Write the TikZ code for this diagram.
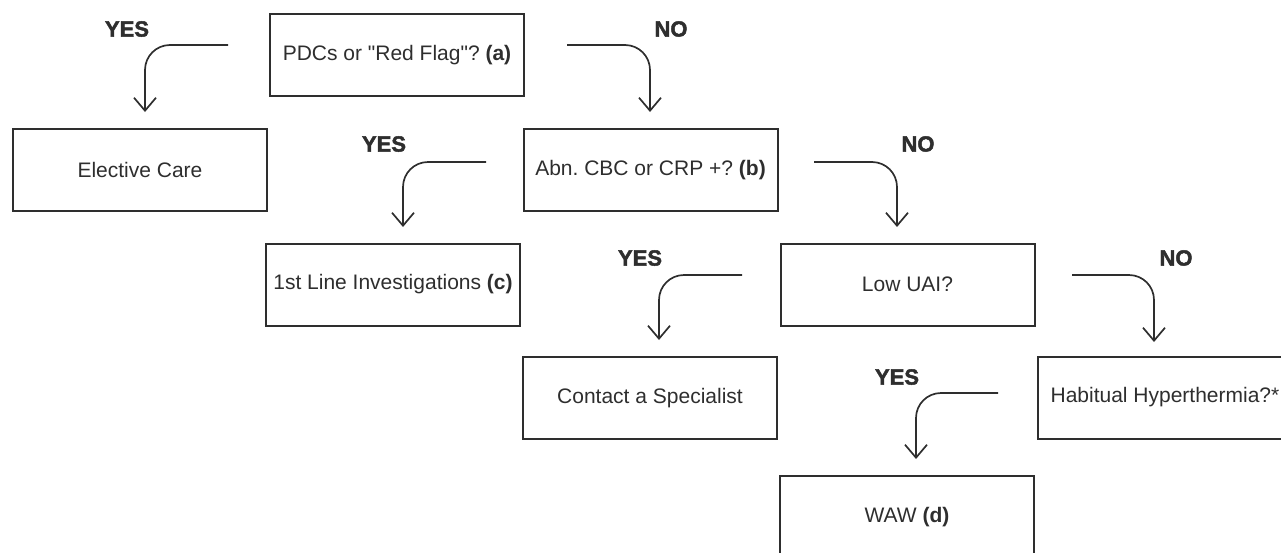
\documentclass[tikz,border=0pt]{standalone}
\usepackage{fontspec}
\setmainfont{Liberation Sans}
\newfontfamily\qfont{Liberation Sans}
\newfontfamily\heavyfont{Liberation Sans}[BoldFeatures={FakeBold=2}]
\usetikzlibrary{arrows.meta}
\definecolor{ink}{HTML}{2E2E2E}
\newcommand{\sq}{{\qfont\char34}}
\frenchspacing
\tikzset{
  box/.style={draw=ink, line width=2pt, minimum width=254pt, minimum height=82pt,
    inner sep=0pt, text=ink, font=\fontsize{21}{25}\selectfont},
  flow/.style={draw=ink, line width=1.7pt, rounded corners=25pt,
    -{Straight Barb[length=13pt,width=22pt,line width=1.7pt]}},
  lbl/.style={text=ink, font=\heavyfont\bfseries\fontsize{22}{26}\selectfont, inner sep=0pt}
}
\begin{document}
\begin{tikzpicture}[x=1pt,y=-1pt]
\useasboundingbox (0,0) rectangle (1281,552);
\begin{scope}
\clip (0,0) rectangle (1281,552);
% boxes
\node[box] (A) at (397,55) {PDCs or \sq Red Flag\sq ? \textbf{(a)}};
\node[box] (E) at (140,170) {Elective Care};
\node[box] (B) at (650.5,170) {Abn. CBC or CRP +? \textbf{(b)}};
\node[box] (C) at (393,284.5) {1st Line Investigations \textbf{(c)}};
\node[box] (L) at (907.5,284.5) {Low UAI?};
\node[box] (S) at (650,398) {Contact a Specialist};
\node[box] (H) at (1165,397.5) {Habitual Hyperthermia?*};
\node[box] (W) at (907,517) {WAW \textbf{(d)}};
% connector end points
\coordinate (a1) at (228,45);  \coordinate (a1t) at (145,112);
\coordinate (a2) at (567,45);  \coordinate (a2t) at (650,112);
\coordinate (b1) at (486,162); \coordinate (b1t) at (403,227);
\coordinate (b2) at (814,162); \coordinate (b2t) at (897,227);
\coordinate (l1) at (742,275); \coordinate (l1t) at (659,340);
\coordinate (l2) at (1072,275); \coordinate (l2t) at (1154,342);
\coordinate (h1) at (998,393); \coordinate (h1t) at (916,459);
% connectors
\draw[flow] (a1) -| (a1t);
\draw[flow] (a2) -| (a2t);
\draw[flow] (b1) -| (b1t);
\draw[flow] (b2) -| (b2t);
\draw[flow] (l1) -| (l1t);
\draw[flow] (l2) -| (l2t);
\draw[flow] (h1) -| (h1t);
% labels
\node[lbl] (ya) at (127,29) {YES};
\node[lbl] (na) at (671,29) {NO};
\node[lbl] (yb) at (384,144) {YES};
\node[lbl] (nb) at (918,144) {NO};
\node[lbl] (yl) at (640,258) {YES};
\node[lbl] (nl) at (1176,258) {NO};
\node[lbl] (yh) at (897,377) {YES};
\end{scope}
\end{tikzpicture}
\end{document}
